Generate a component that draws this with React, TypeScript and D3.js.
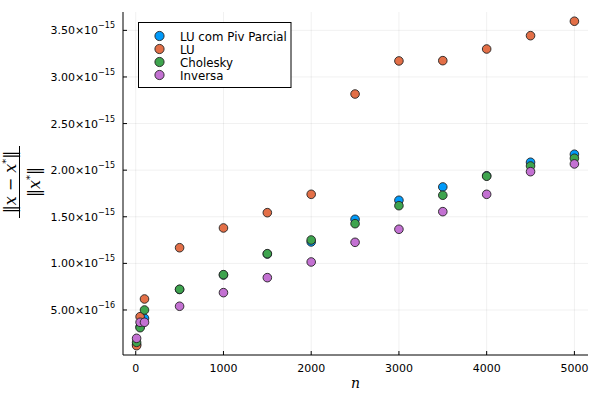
import * as d3 from "d3";

const N_VALUES = [10, 50, 100, 500, 1000, 1500, 2000, 2500, 3000, 3500, 4000, 4500, 5000];

// relative errors, in units of 1e-15
const LU_PIV = [0.13, 0.32, 0.411, 0.72, 0.875, 1.1, 1.23, 1.473, 1.677, 1.82, 1.94, 2.085, 2.171];
const LU = [0.117, 0.428, 0.618, 1.168, 1.38, 1.544, 1.741, 2.817, 3.172, 3.175, 3.3, 3.443, 3.598];
const CHOLESKY = [0.153, 0.31, 0.5, 0.722, 0.879, 1.104, 1.251, 1.426, 1.619, 1.731, 1.935, 2.045, 2.128];
const INVERSA = [0.196, 0.368, 0.368, 0.54, 0.686, 0.847, 1.015, 1.226, 1.366, 1.555, 1.741, 1.984, 2.067];

const SERIES = [
	{ name: "LU com Piv Parcial", color: "#009AFA", values: LU_PIV },
	{ name: "LU", color: "#E36F47", values: LU },
	{ name: "Cholesky", color: "#3EA44E", values: CHOLESKY },
	{ name: "Inversa", color: "#C371D2", values: INVERSA },
];

const X_TICKS = [0, 1000, 2000, 3000, 4000, 5000];
const Y_TICKS = [0.5, 1.0, 1.5, 2.0, 2.5, 3.0, 3.5];
const Y_TICK_LABELS = ["5.00", "1.00", "1.50", "2.00", "2.50", "3.00", "3.50"];
const Y_TICK_EXPS = ["−16", "−15", "−15", "−15", "−15", "−15", "−15"];

const W = 600;
const H = 400;
const plot = { left: 123, right: 588, top: 12, bottom: 355 };
const FONT = "DejaVu Sans, sans-serif";

export default function App() {
	const x = d3.scaleLinear().domain([-145, 5155]).range([plot.left, plot.right]);
	const y = d3.scaleLinear().domain([0.017, 3.697]).range([plot.bottom, plot.top]);

	return (
		<svg
			width={W}
			height={H}
			style={{ position: "absolute", left: 0, top: 0, background: "#fff" }}
			fontFamily={FONT}
		>
			{/* grid */}
			{X_TICKS.map((t) => (
				<line key={"gx" + t} x1={x(t)} x2={x(t)} y1={plot.top} y2={plot.bottom} stroke="#000" strokeOpacity={0.1} strokeWidth={0.6} />
			))}
			{Y_TICKS.map((t) => (
				<line key={"gy" + t} x1={plot.left} x2={plot.right} y1={y(t)} y2={y(t)} stroke="#000" strokeOpacity={0.1} strokeWidth={0.6} />
			))}

			{/* axes */}
			<line x1={plot.left} x2={plot.left} y1={plot.top} y2={plot.bottom} stroke="#000" strokeWidth={1} />
			<line x1={plot.left} x2={plot.right} y1={plot.bottom} y2={plot.bottom} stroke="#000" strokeWidth={1} />

			{X_TICKS.map((t) => (
				<g key={"xt" + t}>
					<line x1={x(t)} x2={x(t)} y1={plot.bottom} y2={plot.bottom - 4} stroke="#000" strokeWidth={1} />
					<text x={x(t)} y={372} textAnchor="middle" fontSize={11} fill="#000">
						{t}
					</text>
				</g>
			))}
			{Y_TICKS.map((t, i) => (
				<g key={"yt" + t}>
					<line x1={plot.left} x2={plot.left + 4} y1={y(t)} y2={y(t)} stroke="#000" strokeWidth={1} />
					<text x={115} y={y(t) + 4} textAnchor="end" fontSize={11} fill="#000">
						{Y_TICK_LABELS[i]}×10
						<tspan dy={-6} fontSize={8}>
							{Y_TICK_EXPS[i]}
						</tspan>
					</text>
				</g>
			))}

			{/* axis labels */}
			<text x={(plot.left + plot.right) / 2} y={388} textAnchor="middle" fontSize={14} fontStyle="italic" fontFamily="DejaVu Serif, serif">
				n
			</text>
			<g transform="translate(19.5,182) rotate(-90)" fontFamily="DejaVu Serif, serif" fontSize={16}>
				<line x1={-36} x2={36} y1={0} y2={0} stroke="#000" strokeWidth={1} />
				<text x={0} y={-4} textAnchor="middle">
					‖<tspan fontStyle="italic">x</tspan> − <tspan fontStyle="italic">x</tspan>
					<tspan dy={-7} fontSize={10}>*</tspan>
					<tspan dy={7}>‖</tspan>
				</text>
				<text x={0} y={20} textAnchor="middle">
					‖<tspan fontStyle="italic">x</tspan>
					<tspan dy={-7} fontSize={10}>*</tspan>
					<tspan dy={7}>‖</tspan>
				</text>
			</g>

			{/* points */}
			{SERIES.map((s) => (
				<g key={s.name}>
					{s.values.map((v, i) => (
						<circle key={i} cx={x(N_VALUES[i])} cy={y(v)} r={4.3} fill={s.color} stroke="#222" strokeWidth={0.9} />
					))}
				</g>
			))}

			{/* legend */}
			<rect x={138.5} y={22.5} width={152.5} height={65} fill="#fff" stroke="#000" strokeWidth={1} />
			{SERIES.map((s, i) => (
				<g key={"lg" + s.name}>
					<circle cx={159.5} cy={36 + i * 13} r={4.6} fill={s.color} stroke="#222" strokeWidth={0.9} />
					<text x={180} y={40.5 + i * 13} fontSize={11.8} fill="#000">
						{s.name}
					</text>
				</g>
			))}
		</svg>
	);
}
